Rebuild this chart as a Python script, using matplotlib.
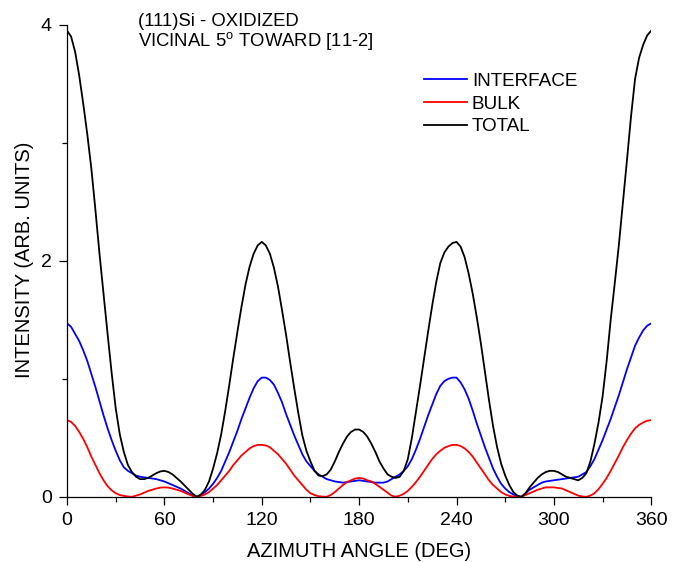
import matplotlib
matplotlib.use("Agg")
import matplotlib.pyplot as plt
from matplotlib.ticker import MultipleLocator

plt.rcParams['font.family'] = ['Liberation Sans', 'DejaVu Sans']
plt.rcParams['mathtext.fontset'] = 'custom'
plt.rcParams['mathtext.rm'] = 'Liberation Sans'

# values read every 2.5 deg, one row = 20 deg
interface = [1.47, 1.44, 1.38, 1.32, 1.24, 1.15, 1.04, 0.93,
             0.81, 0.69, 0.58, 0.48, 0.39, 0.31, 0.25, 0.22,
             0.20, 0.18, 0.17, 0.165, 0.16, 0.155, 0.15, 0.14,
             0.13, 0.115, 0.10, 0.085, 0.07, 0.05, 0.03, 0.01,
             0.00, 0.015, 0.04, 0.07, 0.11, 0.16, 0.22, 0.30,
             0.38, 0.47, 0.56, 0.66, 0.75, 0.84, 0.92, 0.98,
             1.01, 1.01, 0.99, 0.95, 0.88, 0.80, 0.70, 0.61,
             0.52, 0.44, 0.36, 0.30, 0.26, 0.22, 0.19, 0.17,
             0.15, 0.14, 0.13, 0.125, 0.12, 0.125, 0.13, 0.135,
             0.14, 0.135, 0.13, 0.125, 0.12, 0.12, 0.12, 0.13,
             0.15, 0.17, 0.19, 0.22, 0.26, 0.32, 0.40, 0.49,
             0.59, 0.69, 0.78, 0.87, 0.94, 0.98, 1.00, 1.01,
             1.01, 0.97, 0.91, 0.83, 0.73, 0.62, 0.52, 0.42,
             0.33, 0.24, 0.17, 0.11, 0.07, 0.04, 0.02, 0.005,
             0.00, 0.03, 0.06, 0.08, 0.10, 0.12, 0.13, 0.135,
             0.14, 0.145, 0.15, 0.155, 0.16, 0.165, 0.17, 0.19,
             0.21, 0.26, 0.32, 0.40, 0.48, 0.57, 0.66, 0.76,
             0.86, 0.97, 1.08, 1.18, 1.28, 1.35, 1.41, 1.45,
             1.47]

bulk = [0.65, 0.635, 0.60, 0.55, 0.49, 0.42, 0.34, 0.27,
        0.20, 0.14, 0.09, 0.055, 0.03, 0.015, 0.008, 0.003,
        0.00, 0.01, 0.02, 0.035, 0.05, 0.06, 0.07, 0.078,
        0.08, 0.078, 0.07, 0.06, 0.05, 0.035, 0.02, 0.007,
        0.00, 0.008, 0.02, 0.04, 0.07, 0.10, 0.14, 0.18,
        0.22, 0.27, 0.31, 0.35, 0.38, 0.41, 0.43, 0.44,
        0.44, 0.435, 0.42, 0.39, 0.36, 0.32, 0.28, 0.23,
        0.18, 0.14, 0.10, 0.06, 0.03, 0.015, 0.005, 0.002,
        0.00, 0.015, 0.04, 0.07, 0.10, 0.125, 0.14, 0.155,
        0.16, 0.155, 0.14, 0.13, 0.11, 0.085, 0.06, 0.035,
        0.01, 0.00, 0.01, 0.025, 0.05, 0.085, 0.125, 0.17,
        0.22, 0.27, 0.32, 0.36, 0.39, 0.415, 0.43, 0.44,
        0.44, 0.43, 0.41, 0.38, 0.34, 0.29, 0.24, 0.19,
        0.14, 0.10, 0.07, 0.04, 0.02, 0.008, 0.002, 0.00,
        0.00, 0.015, 0.03, 0.045, 0.06, 0.07, 0.08, 0.08,
        0.08, 0.075, 0.07, 0.055, 0.04, 0.025, 0.01, 0.003,
        0.00, 0.01, 0.03, 0.065, 0.11, 0.16, 0.22, 0.285,
        0.35, 0.42, 0.48, 0.535, 0.58, 0.61, 0.63, 0.645,
        0.65]

total = [3.95, 3.90, 3.77, 3.57, 3.33, 3.07, 2.78, 2.43,
         2.06, 1.72, 1.38, 1.05, 0.75, 0.53, 0.38, 0.27,
         0.21, 0.17, 0.15, 0.15, 0.16, 0.18, 0.20, 0.215,
         0.22, 0.21, 0.19, 0.16, 0.13, 0.095, 0.06, 0.025,
         0.00, 0.02, 0.06, 0.13, 0.24, 0.37, 0.53, 0.73,
         0.95, 1.18, 1.40, 1.61, 1.80, 1.95, 2.06, 2.13,
         2.16, 2.13, 2.06, 1.94, 1.78, 1.58, 1.37, 1.14,
         0.92, 0.71, 0.52, 0.39, 0.30, 0.22, 0.18, 0.175,
         0.19, 0.23, 0.30, 0.38, 0.45, 0.51, 0.55, 0.57,
         0.57, 0.55, 0.51, 0.45, 0.38, 0.30, 0.24, 0.19,
         0.17, 0.16, 0.17, 0.22, 0.32, 0.50, 0.72, 0.94,
         1.17, 1.40, 1.62, 1.82, 1.98, 2.07, 2.12, 2.15,
         2.16, 2.12, 2.03, 1.89, 1.72, 1.52, 1.30, 1.06,
         0.82, 0.60, 0.42, 0.28, 0.18, 0.10, 0.04, 0.01,
         0.00, 0.03, 0.08, 0.12, 0.16, 0.19, 0.21, 0.22,
         0.22, 0.21, 0.19, 0.17, 0.16, 0.15, 0.14, 0.16,
         0.20, 0.30, 0.45, 0.63, 0.85, 1.15, 1.50, 1.81,
         2.13, 2.49, 2.85, 3.22, 3.54, 3.72, 3.83, 3.91,
         3.95]

angle = [i * 2.5 for i in range(len(total))]

fig = plt.figure(figsize=(6.77, 5.62), dpi=100)
ax = fig.add_axes([0.099, 0.116, 0.863, 0.84])

ax.plot(angle, interface, color='#0000ff', lw=1.3, label='INTERFACE')
ax.plot(angle, bulk, color='#ff0000', lw=1.3, label='BULK')
ax.plot(angle, total, color='black', lw=1.3, label='TOTAL')

ax.set_xlim(0, 360)
ax.set_ylim(0, 4)
ax.xaxis.set_major_locator(MultipleLocator(60))
ax.xaxis.set_minor_locator(MultipleLocator(30))
ax.yaxis.set_major_locator(MultipleLocator(2))
ax.yaxis.set_minor_locator(MultipleLocator(1))

ax.spines['top'].set_visible(False)
ax.spines['right'].set_visible(False)
for s in ['left', 'bottom']:
    ax.spines[s].set_linewidth(0.9)
ax.tick_params(which='major', direction='out', length=6, width=0.9,
               labelsize=14, pad=5)
ax.tick_params(which='minor', direction='out', length=3.5, width=0.9)

ax.set_xlabel('AZIMUTH ANGLE (DEG)', fontsize=14.5, va='baseline')
ax.set_ylabel('INTENSITY (ARB. UNITS)', fontsize=14.5)
ax.xaxis.set_label_coords(0.5, -0.127)
ax.yaxis.set_label_coords(-0.057, 0.502)

ax.text(0.122, 1.007, '(111)Si - OXIDIZED', transform=ax.transAxes,
        fontsize=13.3, va='center', ha='left')
ax.text(0.122, 0.966, r'VICINAL 5$^\mathregular{o}$ TOWARD [11-2]',
        transform=ax.transAxes, fontsize=13.3, va='center', ha='left')

ax.legend(loc='upper left', bbox_to_anchor=(0.611, 0.899), frameon=False,
          fontsize=13.6, handlelength=2.27, handletextpad=0.27,
          labelspacing=0.3, borderpad=0, borderaxespad=0)

fig.savefig('out.png', dpi=100)
